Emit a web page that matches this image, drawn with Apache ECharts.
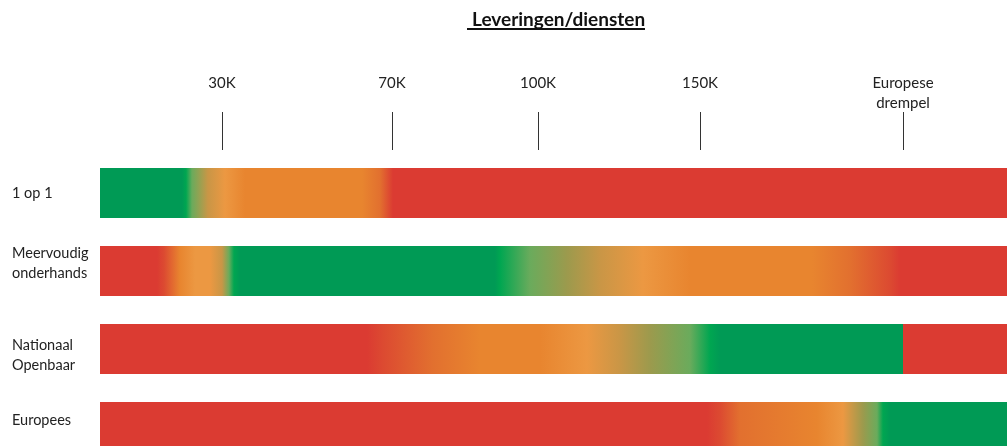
<!DOCTYPE html>
<html>
<head>
<meta charset="utf-8">
<script src="https://cdn.jsdelivr.net/npm/echarts@6/dist/echarts.min.js"></script>
<style>html,body{margin:0;padding:0;background:#fff}#c{width:1007px;height:446px}</style>
</head>
<body>
<div id="c"></div>
<script>
// ---- data ----
const titleText = 'Leveringen/diensten';
const categories = ['1 op 1', 'Meervoudig\nonderhands', 'Nationaal\nOpenbaar', 'Europees'];
// schematic scale (not linear): positions of the thresholds along the bar, in scale units
const scaleMax = 907;
const tickValues = [122, 292, 438, 600, 803];
const tickLabels = ['30K', '70K', '100K', '150K', 'Europese\ndrempel'];
// colour zones along each bar: [scale position, status code]
const row1Zones = [[0,'G'],[82,'G'],[86,'g'],[92,'p'],[108,'t'],[125,'L'],[145,'O'],[262,'O'],[280,'r'],[293,'R'],[907,'R']];
const row2Zones = [[0,'R'],[57,'R'],[64,'s'],[80,'O'],[95,'L'],[110,'L'],[122,'t'],[129,'p'],[134,'g'],[140,'G'],[395,'G'],[400,'g'],[430,'p'],[467,'v'],[500,'t'],[543,'L'],[590,'O'],[712,'O'],[750,'r'],[790,'s'],[800,'R'],[907,'R']];
const row3Zones = [[0,'R'],[267,'R'],[283,'s'],[333,'r'],[380,'O'],[440,'O'],[487,'L'],[520,'t'],[550,'v'],[590,'p'],[610,'g'],[620,'G'],[803,'G'],[803,'R'],[907,'R']];
const row4Zones = [[0,'R'],[607,'R'],[620,'s'],[640,'r'],[717,'O'],[743,'L'],[763,'v'],[777,'p'],[783,'g'],[790,'G'],[907,'G']];
const rowZones = [row1Zones, row2Zones, row3Zones, row4Zones];

// ---- styles ----
const palette = {G:'#009a55', g:'#00a651', p:'#6aab5c', v:'#9c9a4d', t:'#c99646', L:'#ec9842', O:'#e8852f', r:'#e2702f', s:'#dc4a31', R:'#db3b32'};
// vertical nudge of each row label relative to its bar centre (px, negative = up)
const labelShift = [0, -8, 6, -7];

function gradientFor(zones){
  return new echarts.graphic.LinearGradient(0, 0, 1, 0,
    zones.map(z => ({offset: z[0] / scaleMax, color: palette[z[1]]})));
}

const richStyles = {t: {fontFamily: 'Lato', fontSize: 14.5, lineHeight: 20, color: '#222', align: 'left'}};
labelShift.forEach((s, i) => { if (s) richStyles['g' + i] = {fontSize: 1, lineHeight: Math.abs(s) * 2}; });

function yLabel(value) {
  const i = categories.indexOf(value);
  const s = labelShift[i];
  const body = value.split('\n').map(l => '{t|' + l + '}').join('\n');
  if (!s) return body;
  const gap = '{g' + i + '| }';
  return s < 0 ? body + '\n' + gap : gap + '\n' + body;
}

const chart = echarts.init(document.getElementById('c'), null, {renderer: 'canvas'});
chart.setOption({
  animation: false,
  title: {
    text: titleText, left: 467, top: 5,
    textStyle: {fontFamily: 'Lato', fontWeight: 'bold', fontSize: 19, color: '#111'}
  },
  graphic: [{
    type: 'line', shape: {x1: 467, y1: 29, x2: 645, y2: 29},
    style: {stroke: '#111', lineWidth: 2}
  }],
  grid: {left: 100, right: 0, top: 193, bottom: 19},
  xAxis: {
    type: 'value', position: 'top', min: 0, max: scaleMax, offset: 43,
    axisLine: {show: false},
    splitLine: {show: false},
    axisTick: {show: true, customValues: tickValues, length: 38, lineStyle: {color: '#333', width: 1}},
    axisLabel: {
      customValues: tickValues, margin: 77, verticalAlign: 'top', align: 'center',
      fontFamily: 'Lato', fontSize: 15, lineHeight: 20, color: '#222',
      formatter: v => tickLabels[tickValues.indexOf(v)]
    }
  },
  yAxis: {
    type: 'category', inverse: true, boundaryGap: false, data: categories,
    axisLine: {show: false}, axisTick: {show: false}, splitLine: {show: false},
    axisLabel: {align: 'left', margin: 88, fontFamily: 'Lato', fontSize: 14.5, lineHeight: 20, color: '#222',
      formatter: yLabel, rich: richStyles}
  },
  series: [{
    type: 'bar', barWidth: 50, clip: false,
    data: categories.map((c, i) => ({value: scaleMax, itemStyle: {color: gradientFor(rowZones[i])}}))
  }]
});
</script>
</body>
</html>
